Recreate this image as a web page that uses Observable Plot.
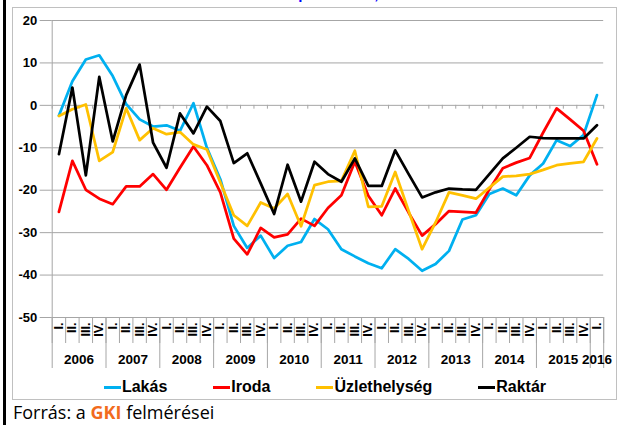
<!DOCTYPE html>
<html>
<head>
<meta charset="utf-8">
<script src="https://cdn.jsdelivr.net/npm/d3@7"></script>
<script src="https://cdn.jsdelivr.net/npm/@observablehq/plot@0.6"></script>
<style>
  html, body { margin: 0; padding: 0; background: #fff; }
  body { width: 630px; height: 425px; overflow: hidden; position: relative; font-family: Arial, "Liberation Sans", sans-serif; }
  #bar { position: absolute; left: 3px; top: 0; width: 3px; height: 425px; background: #000; }
  #frame { position: absolute; left: 12px; top: 7px; width: 605px; height: 393px; border: 1px solid #c0c0c0; box-sizing: border-box; }
  #title { position: absolute; top: -16.5px; left: 0; width: 630px; text-align: center; color: #0000ff; font: bold 15px Arial, "Liberation Sans", sans-serif; line-height: 20px; white-space: nowrap; }
  #chart { position: absolute; left: 0; top: 0; }
  #legend { position: absolute; top: 378px; left: 0; width: 650px; display: flex; justify-content: center; gap: 46px; font: bold 16px Arial, "Liberation Sans", sans-serif; line-height: 18px; color: #000; }
  #legend .item { display: flex; align-items: center; white-space: nowrap; }
  #legend .sw { display: inline-block; width: 17px; height: 3px; margin-right: 1px; }
  #caption { position: absolute; left: 13px; top: 402px; font-family: "Open Sans", sans-serif; font-size: 18px; line-height: 20px; color: #000; white-space: nowrap; }
  #caption b { color: #f26b1d; }
</style>
</head>
<body>
<div id="bar"></div>
<div id="frame"></div>
<div id="title">Bizalmi indexek típusonként, 2006–2016</div>
<div id="chart"></div>
<div id="legend"></div>
<div id="caption">Forrás: a <b>GKI</b> felmérései</div>
<script>
// ---- data ----
const years = ["2006","2007","2008","2009","2010","2011","2012","2013","2014","2015","2016"];
const quarterNames = ["I.","II.","III.","IV."];
const seriesNames = ["Lakás","Iroda","Üzlethelység","Raktár"];
const seriesColors = ["#00B0F0","#FF0000","#FFC000","#000000"];
const yTicks = [-50,-40,-30,-20,-10,0,10,20];

const lakas = [-2.4,5.7,10.8,11.8,6.9,0.3,-3.3,-5.0,-4.7,-6.0,0.5,-10.0,-17.4,-28.4,-33.6,-30.7,-36.0,-33.1,-32.2,-26.8,-29.2,-33.9,-35.6,-37.2,-38.4,-33.9,-36.2,-39.0,-37.4,-34.3,-26.9,-25.9,-20.9,-19.6,-21.2,-16.5,-13.7,-8.2,-9.6,-7.0,2.4];
const iroda = [-25.1,-13.1,-19.9,-22.0,-23.3,-19.1,-19.1,-16.2,-19.9,-14.7,-9.7,-14.1,-20.5,-31.4,-35.1,-28.9,-31.1,-30.4,-26.7,-28.4,-24.2,-21.2,-13.3,-21.3,-25.9,-19.6,-25.3,-30.7,-28.0,-24.9,-25.1,-25.3,-19.8,-14.8,-13.5,-12.4,-6.4,-0.7,-3.3,-6.0,-13.9];
const uzlet = [-2.5,-0.9,0.2,-13.1,-11.0,-0.7,-8.2,-5.4,-6.8,-6.3,-9.2,-10.4,-18.2,-25.9,-28.4,-22.9,-24.3,-20.9,-28.5,-18.8,-18.0,-17.8,-10.7,-23.9,-23.8,-15.7,-24.9,-33.9,-27.6,-20.5,-21.2,-22.0,-19.4,-16.8,-16.6,-16.2,-15.2,-14.1,-13.7,-13.3,-7.8];
const raktar = [-11.5,4.2,-16.5,6.7,-8.5,2.4,9.6,-8.8,-14.7,-1.9,-6.6,-0.3,-3.7,-13.6,-11.3,-18.4,-25.6,-14.0,-22.7,-13.3,-16.2,-18.0,-12.5,-19.0,-19.0,-10.6,-16.2,-21.7,-20.5,-19.6,-19.8,-19.9,-16.2,-12.5,-10.0,-7.4,-7.7,-7.8,-7.8,-7.8,-4.7];

// ---- derived tables ----
const seriesValues = [lakas, iroda, uzlet, raktar];
const n = lakas.length;
const idx = d3.range(n);
const quarterOf = idx.map(i => quarterNames[i % 4]);
const yearOf = idx.map(i => years[Math.floor(i / 4)]);
const long = [];
seriesNames.forEach((s, k) => seriesValues[k].forEach((v, i) => long.push({s, i, v})));

const qBounds = d3.range(n + 1).map(i => i - 0.5);
const groups = d3.groups(idx, i => yearOf[i]);
const yearCenters = groups.map(([y, is]) => d3.mean(is));
const yearLabelAt = new Map(groups.map(([y, is]) => [d3.mean(is), y]));
const yBounds = [groups[0][1][0] - 0.5, ...groups.map(([y, is]) => is[is.length - 1] + 0.5)];

const grey = "#a6a6a6";

const chart = Plot.plot({
  width: 630,
  height: 400,
  marginLeft: 51.7,
  marginRight: 26.8,
  marginTop: 20,
  marginBottom: 83,
  style: { fontFamily: "Arial, 'Liberation Sans', sans-serif", fontSize: "13px", color: "#000", background: "transparent", overflow: "visible" },
  x: { type: "linear", domain: [qBounds[0], qBounds[qBounds.length - 1]], axis: null },
  y: { domain: [yTicks[0], yTicks[yTicks.length - 1]], axis: null },
  color: { domain: seriesNames, range: seriesColors },
  marks: [
    Plot.gridY(yTicks, { stroke: grey, strokeOpacity: 1 }),
    Plot.axisY(yTicks, { tickSize: 12, tickPadding: 3, stroke: grey, strokeOpacity: 1, fill: "#000", fontSize: 13, fontWeight: "bold", tickFormat: d => String(d), label: null }),
    Plot.ruleX([qBounds[0]], { stroke: grey, strokeOpacity: 1 }),
    Plot.ruleX(qBounds, { x: d => d, y1: 0, y2: -0.9, stroke: grey, strokeOpacity: 1 }),
    Plot.axisX(qBounds, { tickSize: 26, stroke: grey, strokeOpacity: 1, tickFormat: () => "", label: null }),
    Plot.axisX(yBounds, { tickSize: 51, stroke: grey, strokeOpacity: 1, tickFormat: () => "", label: null }),
    Plot.axisX(idx, { tickSize: 0, tickPadding: 5, tickFormat: i => quarterOf[i], rotate: -90, textAnchor: "end", lineAnchor: "middle", fontSize: 12.5, fontWeight: "bold", fill: "#000", label: null }),
    Plot.axisX(yearCenters, { tickSize: 0, tickPadding: 37, tickFormat: c => yearLabelAt.get(c), fontSize: 13.5, fontWeight: "bold", fill: "#000", label: null }),
    Plot.line(long, { x: "i", y: "v", z: "s", stroke: "s", strokeWidth: 2.75, strokeLinejoin: "round", strokeLinecap: "round" })
  ]
});
document.getElementById("chart").appendChild(chart);

// legend
const legend = document.getElementById("legend");
seriesNames.forEach((s, k) => {
  const item = document.createElement("div");
  item.className = "item";
  const sw = document.createElement("span");
  sw.className = "sw";
  sw.style.background = seriesColors[k];
  const t = document.createElement("span");
  t.textContent = s;
  item.appendChild(sw);
  item.appendChild(t);
  legend.appendChild(item);
});
</script>
</body>
</html>
